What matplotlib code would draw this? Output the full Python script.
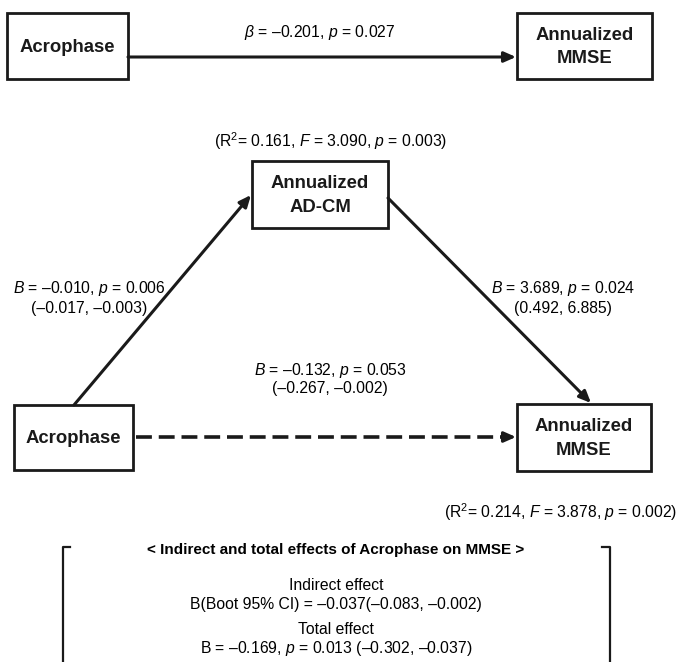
import matplotlib.pyplot as plt
from matplotlib.patches import Rectangle

plt.rcParams['font.family'] = ['Liberation Sans', 'DejaVu Sans']
plt.rcParams['mathtext.fontset'] = 'custom'
plt.rcParams['mathtext.rm'] = 'Liberation Sans'
plt.rcParams['mathtext.it'] = 'Liberation Sans:italic'
plt.rcParams['mathtext.bf'] = 'Liberation Sans:bold'

# box names
boxes = {
    "x_top": "Acrophase",
    "y_top": "Annualized\nMMSE",
    "med": "Annualized\nAD-CM",
    "x_bot": "Acrophase",
    "y_bot": "Annualized\nMMSE",
}

# path coefficients
total_path = r"$\beta$ = –0.201, $p$ = 0.027"
a_path = [r"$B$ = –0.010, $p$ = 0.006", "(–0.017, –0.003)"]
b_path = [r"$B$ = 3.689, $p$ = 0.024", "(0.492, 6.885)"]
c_path = [r"$B$ = –0.132, $p$ = 0.053", "(–0.267, –0.002)"]
med_fit = r"(R$^2$= 0.161, $F$ = 3.090, $p$ = 0.003)"
out_fit = r"(R$^2$= 0.214, $F$ = 3.878, $p$ = 0.002)"

effects_title = "< Indirect and total effects of Acrophase on MMSE >"
indirect = ["Indirect effect", "B(Boot 95% CI) = –0.037(–0.083, –0.002)"]
total = ["Total effect", r"B = –0.169, $p$ = 0.013 (–0.302, –0.037)"]

W, H = 680, 662
fig = plt.figure(figsize=(W / 100, H / 100), dpi=100)
ax = fig.add_axes([0, 0, 1, 1])
ax.set_xlim(0, W)
ax.set_ylim(H, 0)
ax.axis('off')

# box geometry: x0, y0, x1, y1 in pixels
geom = {
    "x_top": (7, 13, 128, 79),
    "y_top": (517, 13, 652, 79),
    "med": (252, 161, 388, 228),
    "x_bot": (14, 405, 133, 470),
    "y_bot": (517, 404, 651, 471),
}

for key, (x0, y0, x1, y1) in geom.items():
    ax.add_patch(Rectangle((x0, y0), x1 - x0, y1 - y0, fill=False,
                           lw=2, ec='#1a1a1a'))
    ax.text((x0 + x1) / 2, (y0 + y1) / 2 + 1, boxes[key], ha='center',
            va='center', fontsize=13.3, fontweight='bold', color='#1a1a1a',
            linespacing=1.5)

def arrow(p0, p1, ls='-'):
    ax.annotate('', xy=p1, xytext=p0,
                arrowprops=dict(arrowstyle='-|>,head_length=0.5,head_width=0.22',
                                lw=2.2, color='#1a1a1a',
                                linestyle=ls, mutation_scale=14,
                                shrinkA=0, shrinkB=0))

arrow((128, 57), (516, 57))
arrow((74, 405), (251, 195))
arrow((388, 198), (591, 403))
# dashed line drawn separately so head stays solid
ax.plot([136, 507], [437, 437], color='#1a1a1a', lw=2.6, ls=(0, (4.4, 1.9)))
arrow((505, 437), (516, 437))

fs = 11.3
ax.text(320, 32, total_path, ha='center', va='center', fontsize=fs)
ax.text(331, 141, med_fit, ha='center', va='center', fontsize=fs)
ax.text(89, 288, a_path[0], ha='center', va='center', fontsize=fs)
ax.text(89, 308, a_path[1], ha='center', va='center', fontsize=fs)
ax.text(563, 288, b_path[0], ha='center', va='center', fontsize=fs)
ax.text(563, 308, b_path[1], ha='center', va='center', fontsize=fs)
ax.text(330, 370, c_path[0], ha='center', va='center', fontsize=fs)
ax.text(330, 389, c_path[1], ha='center', va='center', fontsize=fs)
ax.text(677, 512, out_fit, ha='right', va='center', fontsize=fs)

# bracket for effects
ax.plot([70, 63, 63], [547, 547, H], color='#1a1a1a', lw=1.6)
ax.plot([602, 610, 610], [547, 547, H], color='#1a1a1a', lw=1.6)
ax.text(336, 550, effects_title, ha='center', va='center', fontsize=11,
        fontweight='bold')
ax.text(336, 585, indirect[0], ha='center', va='center', fontsize=fs)
ax.text(336, 605, indirect[1], ha='center', va='center', fontsize=fs)
ax.text(336, 629, total[0], ha='center', va='center', fontsize=fs)
ax.text(336, 649, total[1], ha='center', va='center', fontsize=fs)

fig.savefig('out.png', dpi=100)
